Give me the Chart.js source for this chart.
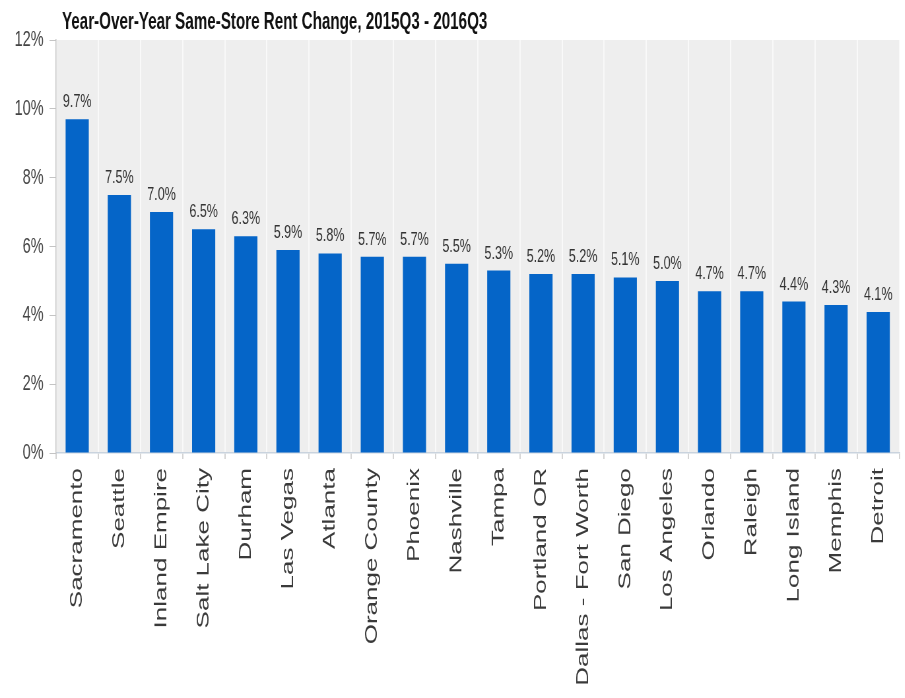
<!DOCTYPE html>
<html>
<head>
<meta charset="utf-8">
<script src="https://cdn.jsdelivr.net/npm/chart.js@4.4.0/dist/chart.umd.min.js"></script>
<style>
  html, body { margin: 0; padding: 0; background: #fff; overflow: hidden; }
  /* the source picture is squeezed horizontally, so draw wide and squash */
  #wrap { width: 1371px; height: 698px; transform: scaleX(0.66); transform-origin: 0 0; }
</style>
</head>
<body>
<div id="wrap"><canvas id="rentChart" width="1371" height="698"></canvas></div>
<script>
const titleText = 'Year-Over-Year Same-Store Rent Change, 2015Q3 - 2016Q3';

const metros = [
  'Sacramento', 'Seattle', 'Inland Empire', 'Salt Lake City', 'Durham',
  'Las Vegas', 'Atlanta', 'Orange County', 'Phoenix', 'Nashville',
  'Tampa', 'Portland OR', 'Dallas - Fort Worth', 'San Diego', 'Los Angeles',
  'Orlando', 'Raleigh', 'Long Island', 'Memphis', 'Detroit'
];

const rentChange = [
  9.7, 7.5, 7.0, 6.5, 6.3,
  5.9, 5.8, 5.7, 5.7, 5.5,
  5.3, 5.2, 5.2, 5.1, 5.0,
  4.7, 4.7, 4.4, 4.3, 4.1
];

const yTicks = [0, 2, 4, 6, 8, 10, 12];

const plotBg = {
  id: 'plotBg',
  beforeDraw(chart) {
    const { ctx, chartArea: a } = chart;
    ctx.save();
    ctx.fillStyle = '#eeeeee';
    ctx.fillRect(a.left, a.top, a.right - a.left, a.bottom - a.top);
    ctx.restore();
  }
};

const barLabels = {
  id: 'barLabels',
  afterDatasetsDraw(chart) {
    const ctx = chart.ctx;
    const meta = chart.getDatasetMeta(0);
    ctx.save();
    ctx.font = '19px "Liberation Sans", Arial, sans-serif';
    ctx.fillStyle = '#333';
    ctx.textAlign = 'center';
    ctx.textBaseline = 'alphabetic';
    meta.data.forEach((bar, i) => {
      ctx.fillText(rentChange[i].toFixed(1) + '%', bar.x, bar.y - 12);
    });
    ctx.restore();
  }
};

const chartTitle = {
  id: 'chartTitle',
  afterDraw(chart) {
    const ctx = chart.ctx;
    ctx.save();
    ctx.font = 'bold 23px "Liberation Sans", Arial, sans-serif';
    ctx.fillStyle = '#111';
    ctx.textAlign = 'left';
    ctx.textBaseline = 'alphabetic';
    ctx.fillText(titleText, chart.chartArea.left + 9, 29);
    ctx.restore();
  }
};

new Chart(document.getElementById('rentChart').getContext('2d'), {
  type: 'bar',
  data: {
    labels: metros,
    datasets: [
      {
        label: 'Rent change',
        data: rentChange,
        backgroundColor: '#0565c8',
        barPercentage: 0.55,
        categoryPercentage: 1
      }
    ]
  },
  options: {
    responsive: false,
    animation: false,
    devicePixelRatio: 1,
    layout: { padding: { top: 40, right: 7, left: 0, bottom: 0 } },
    plugins: {
      legend: { display: false },
      tooltip: { enabled: false },
      title: { display: false }
    },
    scales: {
      x: {
        grid: {
          color: '#f9f9f9',
          lineWidth: 2,
          tickColor: '#d4d4d4',
          tickLength: 6,
          offset: true
        },
        border: { color: '#c9d3de', width: 1.5 },
        ticks: {
          minRotation: 90,
          maxRotation: 90,
          autoSkip: false,
          padding: 9,
          color: '#3a3a3a',
          font: { family: '"Liberation Sans", Arial, sans-serif', size: 26 }
        },
        afterFit(scale) { scale.height = 245; }
      },
      y: {
        min: 0,
        max: 12,
        afterBuildTicks(scale) { scale.ticks = yTicks.map((v) => ({ value: v })); },
        grid: {
          drawOnChartArea: false,
          drawTicks: true,
          tickLength: 10,
          tickColor: '#c4c4c4'
        },
        border: { color: '#c4c4c4', width: 1.5 },
        ticks: {
          padding: 9,
          color: '#444',
          font: { family: '"Liberation Sans", Arial, sans-serif', size: 22 },
          callback: (v) => v + '%'
        },
        afterFit(scale) { scale.width = 85; }
      }
    }
  },
  plugins: [plotBg, barLabels, chartTitle]
});
</script>
</body>
</html>
